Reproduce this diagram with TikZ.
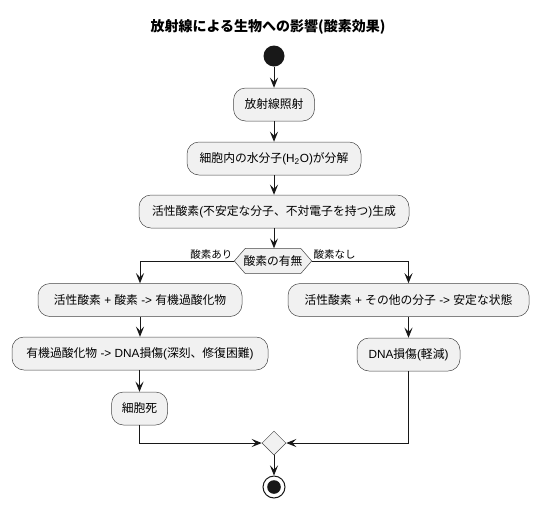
\documentclass[tikz,border=0pt]{standalone}
\usepackage{fontspec}
\setmainfont{Noto Sans CJK JP}
\newfontfamily\lat{Liberation Sans}
\usetikzlibrary{arrows.meta,shapes.geometric,backgrounds}
\definecolor{boxfill}{HTML}{F1F1F1}
\definecolor{lineco}{HTML}{181818}
\tikzset{
  act/.style={draw=lineco!80, line width=0.5pt, fill=boxfill, rounded corners=12pt,
    minimum height=33pt, inner xsep=8pt, font=\fontsize{11.8pt}{13pt}\selectfont},
  lbl/.style={font=\fontsize{10.5pt}{12pt}\selectfont, inner sep=1.5pt},
  arr/.style={draw=lineco, line width=0.9pt, -{Stealth[length=10pt,width=8pt,inset=4pt]}},
}
\begin{document}
\begin{tikzpicture}[x=1pt,y=-1pt]
\useasboundingbox (0,0) rectangle (538,507);
\node[font=\bfseries\fontsize{14pt}{16pt}\selectfont] (title) at (268,27) {放射線による生物への影響(酸素効果)};
\node[circle, fill=lineco, minimum size=21pt, inner sep=0] (start) at (274,56) {};
\node[act, minimum width=81pt] (b1) at (274,104.5) {放射線照射};
\node[act, minimum width=174pt] (b2) at (274,158.5) {細胞内の水分子{\lat(H\textsubscript{2}O)}が分解};
\node[act, minimum width=270pt] (b3) at (274,211.5) {活性酸素{\lat(}不安定な分子、不対電子を持つ{\lat)}生成};
\node[font=\fontsize{11.8pt}{13pt}\selectfont, minimum width=77pt, minimum height=25pt, inner sep=0] (hex) at (273,261) {酸素の有無};
\begin{scope}[on background layer]
\draw[draw=lineco!80, line width=0.5pt, fill=boxfill] (hex.west) -- ([xshift=11pt]hex.north west) -- ([xshift=-11pt]hex.north east) -- (hex.east) -- ([xshift=-11pt]hex.south east) -- ([xshift=11pt]hex.south west) -- cycle;
\end{scope}
\node[act, minimum width=204pt] (l1) at (140,300) {活性酸素{\lat\ + }酸素{\lat\ -> }有機過酸化物};
\node[act, minimum width=256pt] (l2) at (140,353.5) {有機過酸化物{\lat\ -> DNA}損傷{\lat(}深刻、修復困難{\lat)}};
\node[act, minimum width=56pt] (l3) at (139.5,408.5) {細胞死};
\node[act, minimum width=241pt] (r1) at (408.5,300) {活性酸素{\lat\ + }その他の分子{\lat\ -> }安定な状態};
\node[act, minimum width=103pt] (r2) at (408.5,354.5) {{\lat DNA}損傷{\lat(}軽減{\lat)}};
\node[diamond, draw=lineco!80, line width=0.5pt, fill=boxfill, minimum width=24pt, minimum height=24pt, inner sep=0] (merge) at (274,443) {};
\node[circle, draw=lineco, line width=1pt, fill=white, minimum size=22pt, inner sep=0,
  path picture={\fill[lineco] (path picture bounding box.center) circle (6.8pt);}] (stop) at (274,487) {};
\draw[arr] (start) -- (b1);
\draw[arr] (b1) -- (b2);
\draw[arr] (b2) -- (b3);
\draw[arr] (b3) -- (b3 |- hex.north);
\draw[arr] (hex.west) -| node[pos=0, anchor=south east, lbl] {酸素あり} (l1.north);
\draw[arr] (hex.east) -| node[pos=0, anchor=south west, lbl] {酸素なし} (r1.north);
\draw[arr] (l1) -- (l2);
\draw[arr] (l2.south -| l3) -- (l3);
\draw[arr] (r1) -- (r2);
\draw[arr] (l3.south) |- (merge.west);
\draw[arr] (r2.south) |- (merge.east);
\draw[arr] (merge) -- (stop);
\end{tikzpicture}
\end{document}
